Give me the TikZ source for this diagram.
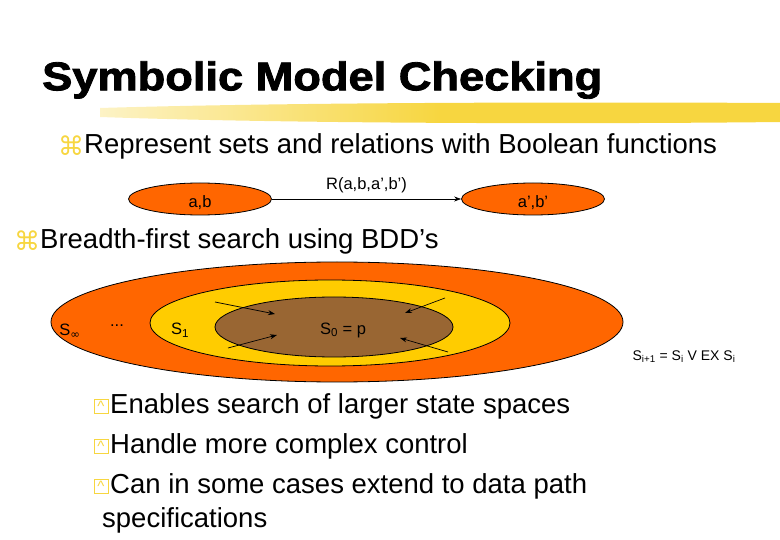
\documentclass[tikz,border=0pt]{standalone}
\usepackage{fontspec}
\setmainfont{Liberation Sans}
\newfontfamily\symf{DejaVu Sans}
\newfontfamily\titlef[FakeBold=2]{Liberation Sans Bold}
\usetikzlibrary{shapes.geometric,arrows.meta}
\definecolor{org}{RGB}{255,102,0}
\definecolor{yel}{RGB}{255,204,0}
\definecolor{brn}{RGB}{153,102,51}
\definecolor{brush}{RGB}{247,214,64}
\tikzset{
 ell/.style={ellipse,draw=black,line width=0.8pt,inner sep=0pt},
 body/.style={anchor=west,inner sep=0pt,font=\fontsize{27.5}{30}\selectfont},
 small/.style={inner sep=0pt,font=\fontsize{16.5}{18}\selectfont},
 arr/.style={-{Stealth[length=7pt,width=5pt]},line width=0.7pt},
 cmd/.style={anchor=west,inner sep=0pt,text=brush,font=\symf\fontsize{26}{28}\selectfont},
 sbul/.style={draw=brush,line width=1pt,minimum size=14pt,inner sep=0pt,text=brush,font=\fontsize{15}{15}\selectfont},
}
\begin{document}
\begin{tikzpicture}[x=1pt,y=-1pt]
\useasboundingbox (0,0) rectangle (780,540);
% brush
\shade[left color=brush!30, right color=brush, middle color=brush] (100,108) .. controls (300,102) and (600,102) .. (780,103) -- (780,122) .. controls (600,124) and (300,124) .. (100,117) -- cycle;
\node[anchor=west,inner sep=0pt,font=\titlef\fontsize{40}{44}\selectfont] (title) at (42,80) {\scalebox{1.13}[1]{Symbolic Model Checking}};
\node[cmd] (c1) at (58,146) {⌘};
\node[body] (t1) at (84,146) {Represent sets and relations with Boolean functions};
% small ellipses
\node[ell,fill=org,minimum width=143pt,minimum height=32pt] (ab) at (200,199) {};
\node[small] at (200,203) {a,b};
\node[ell,fill=org,minimum width=143pt,minimum height=32pt] (ab2) at (533,199) {};
\node[small] at (533,203) {a',b'};
\draw[arr] (ab.east) -- (ab2.west) node[midway,above=6pt,small] (R) {R(a,b,a',b')};
\node[cmd] (c2) at (14,241) {⌘};
\node[body] (t2) at (40,241) {Breadth-first search using BDD's};
% nested ellipses
\node[ell,fill=org,minimum width=572pt,minimum height=120pt] (o) at (337,322) {};
\node[ell,fill=yel,minimum width=360pt,minimum height=86pt] (y) at (330,323) {};
\node[ell,fill=brn,minimum width=238pt,minimum height=60pt] (b) at (334,327) {};
\coordinate (p1) at (215,302); \coordinate (q1) at (275,314);
\coordinate (p2) at (228,348); \coordinate (q2) at (277,335);
\coordinate (p3) at (445,298); \coordinate (q3) at (405,313);
\coordinate (p4) at (448,352); \coordinate (q4) at (400,338);
\draw[arr] (p1) -- (q1); \draw[arr] (p2) -- (q2);
\draw[arr] (p3) -- (q3); \draw[arr] (p4) -- (q4);
\node[small] (sinf) at (70,331) {S\textsubscript{\symf ∞}};
\node[small] (dots) at (117,326) {...};
\node[small] (s1) at (180,330) {S\textsubscript{1}};
\node[small] (s0) at (343,330) {S\textsubscript{0} = p};
\node[small,font=\fontsize{14}{16}\selectfont] (f) at (684,357) {S\textsubscript{i+1} = S\textsubscript{i} V EX S\textsubscript{i}};
% sub bullets
\node[sbul] (b1) at (101,406) {\^{}};
\node[body] (u1) at (110,406) {Enables search of larger state spaces};
\node[sbul] (b2) at (101,446) {\^{}};
\node[body] (u2) at (110,446) {Handle more complex control};
\node[sbul] (b3) at (101,486) {\^{}};
\node[body] (u3) at (110,486) {Can in some cases extend to data path};
\node[body] (u4) at (102,520) {specifications};
\end{tikzpicture}
\end{document}
